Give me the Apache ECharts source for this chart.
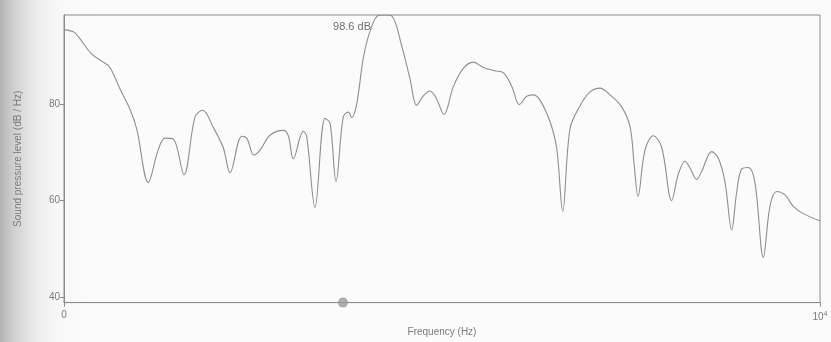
<!DOCTYPE html>
<html>
<head>
<meta charset="utf-8">
<script src="https://cdn.jsdelivr.net/npm/echarts@6/dist/echarts.min.js"></script>
<style>
  html, body { margin: 0; padding: 0; }
  body {
    width: 831px; height: 342px; overflow: hidden;
    background: linear-gradient(to right, #b4b4b4 0px, #d4d4d4 16px, #ececec 36px, #f8f8f8 58px, #fbfbfb 90px);
  }
  #chart { width: 831px; height: 342px; }
</style>
</head>
<body>
<div id="chart"></div>
<script>
// Spectrum: frequency (Hz) and sound pressure level (dB / Hz)
const freqHz = [
  0, 123, 189, 366, 520, 608, 741, 873, 962, 1115,
  1247, 1336, 1446, 1587, 1733, 1835, 1975, 2107, 2196, 2351,
  2417, 2513, 2593, 2725, 2901, 2967, 3033, 3165, 3210, 3320,
  3452, 3519, 3598, 3694, 3761, 3806, 3872, 3959, 4048, 4157,
  4246, 4335, 4467, 4577, 4665, 4753, 4841, 4930, 5026, 5150,
  5282, 5414, 5546, 5701, 5811, 5922, 6023, 6120, 6208, 6296,
  6429, 6517, 6597, 6693, 6825, 6958, 7090, 7222, 7377, 7487,
  7540, 7593, 7685, 7795, 7906, 8038, 8126, 8214, 8280, 8369,
  8435, 8567, 8655, 8743, 8832, 8898, 8964, 9052, 9140, 9250,
  9339, 9427, 9537, 9647, 9779, 10000
];
const levelDb = [
  95.5, 95.1, 94.1, 90.5, 88.8, 87.7, 83.2, 79.0, 74.9, 63.8,
  70.6, 73.0, 72.8, 65.4, 77.4, 78.8, 75.2, 71.0, 65.8, 73.4,
  73.0, 69.5, 70.5, 73.6, 74.6, 73.5, 68.7, 74.4, 73.4, 58.6,
  77.1, 76.1, 64.0, 77.4, 78.4, 77.3, 80.1, 89.7, 95.2, 98.5,
  98.6, 98.4, 92.2, 85.3, 79.8, 81.8, 82.8, 81.1, 77.9, 83.7,
  87.5, 88.8, 87.7, 87.0, 86.6, 83.8, 80.0, 81.7, 82.0, 80.9,
  76.4, 70.9, 57.8, 74.95, 79.7, 82.6, 83.4, 82.0, 79.5, 75.4,
  67.8, 60.9, 70.5, 73.5, 71.1, 60.0, 65.5, 68.2, 66.8, 64.4,
  66.1, 70.2, 68.8, 63.9, 53.9, 61.8, 66.6, 66.9, 63.7, 48.2,
  58.9, 61.9, 61.2, 58.8, 57.3, 55.8
];

// Axis ranges and labelled ticks
const yRange = [38.8, 98.6];
const yTicks = [40, 60, 80];
const xRange = [0, 10000];
const xTicks = [0, 10000];

// Cursor position on the frequency axis
const cursorHz = [3690];

const spectrum = freqHz.map((f, i) => [f, levelDb[i]]);

const ink = '#7a7a7a';
const chart = echarts.init(document.getElementById('chart'), null, { renderer: 'canvas' });

chart.setOption({
  backgroundColor: 'transparent',
  animation: false,
  grid: {
    left: 64, right: 11, top: 15, bottom: 37,
    show: true, borderColor: '#8a8a8a', borderWidth: 1,
    backgroundColor: 'transparent'
  },
  xAxis: {
    type: 'value',
    min: xRange[0], max: xRange[1],
    name: 'Frequency (Hz)',
    nameLocation: 'middle',
    nameGap: 22,
    nameTextStyle: { color: ink, fontSize: 10, fontFamily: 'Liberation Sans, Arial, sans-serif' },
    axisLine: { show: true, lineStyle: { color: '#8a8a8a', width: 1 } },
    axisTick: { show: true, customValues: xTicks, length: 4, lineStyle: { color: '#8a8a8a' } },
    axisLabel: {
      customValues: xTicks,
      color: ink, fontSize: 10, margin: 8,
      fontFamily: 'Liberation Sans, Arial, sans-serif',
      formatter: v => v === 0 ? '0' : '10{sup|4}',
      rich: {
        sup: { fontSize: 7, color: ink, padding: [0, 0, 6, 0] }
      }
    },
    splitLine: { show: false }
  },
  yAxis: {
    type: 'value',
    min: yRange[0], max: yRange[1],
    name: 'Sound pressure level (dB / Hz)',
    nameLocation: 'middle',
    nameGap: 41,
    nameTextStyle: { color: ink, fontSize: 10, fontFamily: 'Liberation Sans, Arial, sans-serif' },
    axisLine: { show: true, lineStyle: { color: '#8a8a8a', width: 1 } },
    axisTick: { show: true, customValues: yTicks, length: 4, lineStyle: { color: '#8a8a8a' } },
    axisLabel: {
      customValues: yTicks,
      color: ink, fontSize: 10, margin: 4,
      fontFamily: 'Liberation Sans, Arial, sans-serif'
    },
    splitLine: { show: false }
  },
  series: [
    {
      type: 'line',
      data: spectrum,
      smooth: 0.35,
      symbol: 'none',
      lineStyle: { color: '#8e8e8e', width: 1.1 },
      markPoint: {
        symbol: 'circle',
        symbolSize: 0,
        data: [{ type: 'max' }],
        label: {
          show: true,
          position: 'left',
          distance: 0,
          offset: [-14, 12],
          color: '#6e6e6e',
          fontSize: 11,
          fontFamily: 'Liberation Sans, Arial, sans-serif',
          formatter: p => p.value.toFixed(1) + ' dB'
        }
      }
    },
    {
      type: 'scatter',
      data: cursorHz.map(f => [f, yRange[0]]),
      symbol: 'circle',
      symbolSize: 10,
      itemStyle: { color: '#9a9a9a' },
      clip: false,
      z: 5
    }
  ]
});
</script>
</body>
</html>
